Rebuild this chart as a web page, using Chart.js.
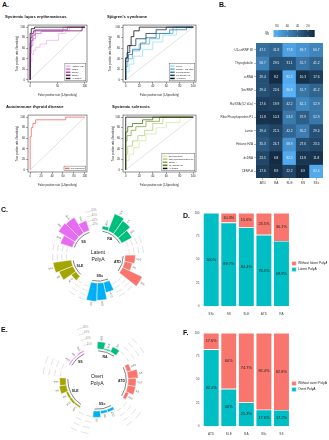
<!DOCTYPE html>
<html>
<head>
<meta charset="utf-8">
<script src="https://cdn.jsdelivr.net/npm/chart.js@4.4.1/dist/chart.umd.min.js"></script>
<style>
  body { margin: 0; background: #fff; font-family: 'Liberation Sans', Arial, sans-serif; }
  #page { position: relative; width: 329px; height: 440px; overflow: hidden; }
  canvas { position: absolute; }
  .tag { position: absolute; font-weight: bold; font-size: 7px; line-height: 7px; color: #111; }
</style>
</head>
<body>
<div id="page">
  <canvas id="rocSle" width="91" height="92" style="left:0;top:10px;width:91px;height:92px"></canvas>
  <canvas id="rocSs" width="100" height="92" style="left:100px;top:10px;width:100px;height:92px"></canvas>
  <canvas id="rocAtd" width="91" height="92" style="left:0;top:100px;width:91px;height:92px"></canvas>
  <canvas id="rocSsc" width="100" height="92" style="left:100px;top:100px;width:100px;height:92px"></canvas>
  <canvas id="heat" width="169" height="172" style="left:160px;top:18px;width:169px;height:172px"></canvas>
  <canvas id="circleC" width="196" height="112" style="left:0;top:200px;width:196px;height:112px"></canvas>
  <canvas id="stackD" width="149" height="112" style="left:180px;top:208px;width:149px;height:112px"></canvas>
  <canvas id="circleE" width="194" height="140" style="left:0;top:300px;width:194px;height:140px"></canvas>
  <canvas id="stackF" width="149" height="112" style="left:180px;top:328px;width:149px;height:112px"></canvas>
  <div class="tag" style="left:2px;top:1px">A.</div>
  <div class="tag" style="left:219px;top:1px">B.</div>
  <div class="tag" style="left:1px;top:206px">C.</div>
  <div class="tag" style="left:183px;top:212px">D.</div>
  <div class="tag" style="left:1px;top:326px">E.</div>
  <div class="tag" style="left:183px;top:329px">F.</div>
</div>
<script>
// ---------- data ----------
// A: ROC curves, false positive rate (%) / true positive rate (%), step corners
const rocYTicks = [0, 20, 40, 60, 80, 100];

const sleNames = ['Histone H2A', 'Lamin', 'ssRNA', 'dsDNA', 'All tested'];
const sleColors = ['#f0b6ec', '#db7ad7', '#b34db3', '#6d1f6d', '#111111'];
const sleFpr = [
  [0, 3, 6, 10, 18, 30, 52, 65, 72, 100],
  [0, 2, 5, 10, 20, 60, 100],
  [0, 2, 5, 9, 68, 100],
  [0, 1, 3, 6, 95, 100],
  [0, 2, 8, 100]
];
const sleTpr = [
  [0, 35, 48, 56, 62, 68, 75, 88, 93, 100],
  [0, 50, 65, 78, 88, 92, 100],
  [0, 62, 75, 85, 95, 100],
  [0, 70, 80, 88, 93, 100],
  [0, 88, 97, 100]
];

const ssNames = ['Lamin', 'Ro/SSA (52 kDa)', 'Thyroglobulin', 'U1-snRNP 68', 'All tested'];
const ssColors = ['#9fe1f2', '#5cb6de', '#3a7ea8', '#1c3d5c', '#111111'];
const ssFpr = [
  [0, 5, 12, 25, 40, 55, 75, 100],
  [0, 3, 10, 20, 35, 50, 70, 100],
  [0, 4, 10, 22, 30, 45, 65, 90, 100],
  [0, 2, 6, 15, 30, 45, 60, 100],
  [0, 3, 8, 12, 20, 100]
];
const ssTpr = [
  [0, 15, 30, 45, 58, 72, 85, 100],
  [0, 25, 40, 55, 68, 78, 88, 100],
  [0, 35, 48, 58, 70, 80, 88, 95, 100],
  [0, 40, 52, 65, 78, 88, 95, 100],
  [0, 42, 65, 82, 93, 100]
];

const atdNames = ['Thyroglobulin'];
const atdColors = ['#f26b63'];
const atdFpr = [[0, 2, 5, 10, 65, 100]];
const atdTpr = [[0, 63, 80, 88, 95, 100]];

const sscNames = ['Thyroglobulin', 'Ribo Phosphoprotein P1', 'CENP-A', 'U1-snRNP 68', 'All tested'];
const sscColors = ['#d9e6b3', '#b4cf7c', '#86a943', '#4c771c', '#111111'];
const sscFpr = [
  [0, 5, 12, 20, 30, 45, 60, 80, 100],
  [0, 3, 10, 18, 28, 40, 55, 100],
  [0, 2, 8, 15, 30, 50, 100],
  [0, 3, 10, 25, 40, 100],
  [0, 100]
];
const sscTpr = [
  [0, 18, 30, 42, 55, 68, 80, 90, 100],
  [0, 30, 45, 55, 65, 75, 88, 100],
  [0, 55, 65, 75, 82, 92, 100],
  [0, 72, 82, 88, 95, 100],
  [0, 100]
];

// B: heatmap (%)
const heatCols = ['ATD', 'RA', 'SLE', 'SS', 'SSc'];
const heatRows = ['U1-snRNP 68', 'Thyroglobulin', 'ssRNA', 'Sm/RNP', 'Ro/SSA (52 kDa)',
  'Ribo Phosphoprotein P1', 'Lamin', 'Histone H2A', 'dsDNA', 'CENP-A'];
const heatValues = [
  [47.1, 41.8, 77.8, 69.7, 60.7],
  [58.7, 29.5, 31.1, 51.7, 41.2],
  [29.4, 8.2, 82.2, 10.3, 17.6],
  [29.4, 22.6, 86.8, 51.7, 41.2],
  [17.6, 19.9, 42.2, 62.1, 52.9],
  [11.8, 10.3, 53.3, 37.9, 52.9],
  [29.4, 21.5, 42.2, 55.2, 29.4],
  [35.3, 24.7, 68.9, 27.6, 23.5],
  [23.5, 6.8, 82.2, 13.8, 11.8],
  [17.6, 8.9, 22.2, 6.9, 82.4]
];
const heatKeyTicks = [80, 60, 40, 20];

// C / E: circular bar plots (%)
const groupColors = { ATD: '#F8766D', SLE: '#A3A500', RA: '#00BF7D', SSc: '#00B0F6', SS: '#E76BF3' };
const pctGrid = [20, 40, 60, 80];

const latentGroups = ['RA', 'ATD', 'SSc', 'SLE', 'SS'];
const latentBars = [['ATD', 'SLE', 'SS', 'SSc'], ['SLE', 'SS', 'SSc'], ['ATD', 'SLE', 'SS'], ['ATD', 'SS', 'SSc'], ['ATD', 'RA', 'SLE', 'SSc']];
const latentPct = [[15, 80, 70, 50], [45, 35, 95], [45, 75, 80], [25, 65, 80], [55, 85, 80, 45]];

const overtGroups = ['RA', 'ATD', 'SSc', 'SLE', 'SS'];
const overtBars = [['ATD', 'SLE', 'SS'], ['APS', 'RA', 'SLE', 'SS', 'SSc'], ['ATD', 'RA', 'SS'], ['APS', 'ATD', 'RA', 'SS', 'SSc'], ['ATD', 'RA', 'SLE']];
const overtPct = [[25, 5, 20], [15, 35, 28, 28, 12], [10, 10, 22], [6, 8, 8, 25, 22], [4, 3, 5]];

// D / F: stacked percentages
const stackTicks = [0, 25, 50, 75, 100];
const latentCats = ['SSc', 'SS', 'SLE', 'ATD', 'RA'];
const latentWith = [100, 89.7, 84.4, 76.5, 69.9];
const latentWithout = [0, 10.3, 15.6, 23.5, 30.1];
const overtCats = ['ATD', 'SLE', 'RA', 'SSc', 'SS'];
const overtWith = [82.4, 40, 25.3, 17.6, 17.2];
const overtWithout = [17.6, 60, 74.7, 82.4, 82.8];

// ---------- charts ----------
const FAM = "'Liberation Sans', Arial, sans-serif";
Chart.defaults.font.family = FAM;
Chart.defaults.color = '#333';

// box round the plotting region, like R's box()
const frame = {
  id: 'frame',
  afterDatasetsDraw(chart) {
    const a = chart.chartArea, ctx = chart.ctx;
    ctx.save();
    ctx.strokeStyle = '#222';
    ctx.lineWidth = 0.5;
    ctx.strokeRect(a.left, a.top, a.right - a.left, a.bottom - a.top);
    ctx.restore();
  }
};

// legend drawn inside the bottom-right corner
const rocLegend = {
  id: 'rocLegend',
  afterDatasetsDraw(chart) {
    const ctx = chart.ctx, a = chart.chartArea;
    const items = chart.data.datasets.filter(d => d.label);
    ctx.save();
    ctx.font = '2.3px ' + FAM;
    const tw = Math.max(...items.map(d => ctx.measureText(d.label).width));
    const rowH = 3.1, w = tw + 8, h = items.length * rowH + 1.6;
    const x0 = a.right - w - 1.2, y0 = a.bottom - h - 1.2;
    ctx.fillStyle = '#fff';
    ctx.fillRect(x0, y0, w, h);
    ctx.strokeStyle = '#444';
    ctx.lineWidth = 0.4;
    ctx.strokeRect(x0, y0, w, h);
    ctx.textBaseline = 'middle';
    items.forEach((d, i) => {
      const y = y0 + 0.8 + rowH * (i + 0.5);
      ctx.strokeStyle = d.borderColor;
      ctx.lineWidth = 1.5;
      ctx.beginPath();
      ctx.moveTo(x0 + 1, y);
      ctx.lineTo(x0 + 5.5, y);
      ctx.stroke();
      ctx.fillStyle = '#222';
      ctx.fillText(d.label, x0 + 6.8, y);
    });
    ctx.restore();
  }
};

function rocChart(id, title, names, colors, fpr, tpr, xTicks, padL, yAxisW, yTitlePad) {
  const sets = names.map((name, i) => ({
    label: name,
    data: fpr[i].map((x, j) => ({ x: x, y: tpr[i][j] })),
    borderColor: colors[i],
    backgroundColor: colors[i],
    borderWidth: 0.8,
    showLine: true,
    stepped: 'after',
    pointRadius: 0,
    order: names.length - i
  }));
  sets.push({
    label: '', data: [{ x: 0, y: 0 }, { x: 100, y: 100 }],
    borderColor: '#c4c4c4', borderWidth: 0.5, showLine: true, pointRadius: 0, order: 99
  });
  const axis = (ticks, text, fit, titlePad) => ({
    min: -4, max: 104,
    afterBuildTicks: s => { s.ticks = ticks.map(v => ({ value: v })); },
    ticks: { font: { size: 2.8 }, color: '#222', padding: 1, autoSkip: false, maxRotation: 0 },
    grid: { drawOnChartArea: false, tickLength: 2, color: '#222', lineWidth: 0.4 },
    border: { display: false },
    title: { display: true, text: text, font: { size: 2.7 }, color: '#222', padding: titlePad },
    afterFit: fit
  });
  new Chart(document.getElementById(id), {
    type: 'scatter',
    data: { datasets: sets },
    options: {
      responsive: false,
      animation: false,
      layout: { padding: { left: padL, right: 4, top: 0, bottom: 0 } },
      scales: {
        x: axis(xTicks, 'False positive rate (1-Specificity)', s => { s.height = 20; }, { top: 0, bottom: 5.4 }),
        y: axis(rocYTicks, 'True positive rate (Sensitivity)', s => { s.width = yAxisW; }, { top: yTitlePad, bottom: 0 })
      },
      plugins: {
        legend: { display: false },
        tooltip: { enabled: false },
        title: {
          display: true, text: title, align: 'start', color: '#111',
          font: { size: 4.2, weight: 'bold' }, padding: { top: 4.5, bottom: 5.5 }
        }
      }
    },
    plugins: [frame, rocLegend]
  });
}

rocChart('rocSle', 'Systemic lupus erythematosus', sleNames, sleColors, sleFpr, sleTpr, [0, 50, 100], 5, 23, 10.4);
rocChart('rocSs', "Sjögren's syndrome", ssNames, ssColors, ssFpr, ssTpr, [0, 20, 40, 60, 80, 100], 7, 16, 1.4);
rocChart('rocAtd', 'Autoimmune thyroid disease', atdNames, atdColors, atdFpr, atdTpr, [0, 20, 40, 60, 80, 100], 6, 22, 9.4);
rocChart('rocSsc', 'Systemic sclerosis', sscNames, sscColors, sscFpr, sscTpr, [0, 20, 40, 60, 80, 100], 12, 11, 0);

// ---------- B heatmap ----------
const heatFlat = heatValues.flat();
const heatMin = Math.min(...heatFlat), heatMax = Math.max(...heatFlat);
const lowRgb = [19, 43, 67], highRgb = [86, 177, 247];
function heatColor(v) {
  const t = (v - heatMin) / (heatMax - heatMin);
  const c = lowRgb.map((lo, k) => Math.round(lo + (highRgb[k] - lo) * t));
  return `rgb(${c[0]},${c[1]},${c[2]})`;
}

const heatText = {
  id: 'heatText',
  afterDatasetsDraw(chart) {
    const ctx = chart.ctx;
    ctx.save();
    ctx.font = '3.2px ' + FAM;
    ctx.fillStyle = '#eeeeee';
    ctx.textAlign = 'center';
    ctx.textBaseline = 'middle';
    chart.data.datasets.forEach((ds, i) => {
      chart.getDatasetMeta(i).data.forEach((el, j) => {
        ctx.fillText(ds.values[j].toFixed(1), el.x, (el.y + el.base) / 2);
      });
    });
    ctx.restore();
  }
};

// colour key: light (high) on the left, dark (low) on the right
const heatKey = {
  id: 'heatKey',
  afterDraw(chart) {
    const ctx = chart.ctx;
    const keyX = v => 117 + (80 - v) * 0.515;
    const x0 = keyX(heatMax), x1 = keyX(heatMin);
    ctx.save();
    const g = ctx.createLinearGradient(x0, 0, x1, 0);
    g.addColorStop(0, heatColor(heatMax));
    g.addColorStop(1, heatColor(heatMin));
    ctx.fillStyle = g;
    ctx.fillRect(x0, 12, x1 - x0, 7);
    ctx.strokeStyle = '#fff';
    ctx.lineWidth = 0.4;
    ctx.fillStyle = '#333';
    ctx.font = '3px ' + FAM;
    ctx.textAlign = 'center';
    ctx.textBaseline = 'middle';
    heatKeyTicks.forEach(v => {
      const x = keyX(v);
      ctx.beginPath(); ctx.moveTo(x, 12); ctx.lineTo(x, 13.4); ctx.moveTo(x, 17.6); ctx.lineTo(x, 19); ctx.stroke();
      ctx.fillText(String(v), x, 8);
    });
    ctx.font = '4.5px ' + FAM;
    ctx.fillText('%', 107, 15.5);
    ctx.restore();
  }
};

const heatGrid = { drawOnChartArea: false, tickLength: 2, color: '#555', lineWidth: 0.4, offset: false };
new Chart(document.getElementById('heat'), {
  type: 'bar',
  data: {
    labels: heatCols,
    datasets: heatRows.map((row, i) => ({
      label: row,
      data: heatCols.map(() => [i, i + 1]),
      values: heatValues[i],
      backgroundColor: heatValues[i].map(heatColor),
      borderWidth: 0,
      barPercentage: 1,
      categoryPercentage: 1
    }))
  },
  options: {
    responsive: false,
    animation: false,
    layout: { padding: { left: 0, right: 6, top: 25, bottom: 0 } },
    scales: {
      x: {
        stacked: true,
        grid: heatGrid,
        border: { display: false },
        ticks: { font: { size: 3.2 }, color: '#333', padding: 1 },
        afterFit: s => { s.height = 12; }
      },
      y: {
        min: 0, max: 10, reverse: true,
        afterBuildTicks: s => { s.ticks = heatRows.map((_, i) => ({ value: i + 0.5 })); },
        ticks: { autoSkip: false, font: { size: 3 }, color: '#333', padding: 1, callback: (v, i) => heatRows[i] },
        grid: heatGrid,
        border: { display: false },
        afterFit: s => { s.width = 96; }
      }
    },
    plugins: { legend: { display: false }, tooltip: { enabled: false } }
  },
  plugins: [heatText, heatKey]
});

// ---------- C / E circular bars ----------
const circleDeco = {
  id: 'circleDeco',
  afterDatasetsUpdate(chart) {
    const inner = chart.scales.r.getDistanceFromCenterForValue(0);
    chart.getDatasetMeta(0).data.forEach(a => { a.innerRadius = inner; });
  },
  beforeDatasetsDraw(chart) {
    const r = chart.scales.r, ctx = chart.ctx, ds = chart.data.datasets[0];
    const arcs = chart.getDatasetMeta(0).data;
    ctx.save();
    ctx.strokeStyle = '#cdcdcd';
    ctx.lineWidth = 0.6;
    arcs.forEach((a, i) => {
      if (ds.groupOf[i] >= 0 || i === 0) return;
      pctGrid.forEach(v => {
        ctx.beginPath();
        ctx.arc(a.x, a.y, r.getDistanceFromCenterForValue(v), a.startAngle + 0.04, a.endAngle - 0.04);
        ctx.stroke();
      });
    });
    const a0 = arcs[0], ang = a0.startAngle;
    ctx.fillStyle = '#9a9a9a';
    ctx.font = '2.6px ' + FAM;
    ctx.textAlign = 'center';
    ctx.textBaseline = 'middle';
    pctGrid.forEach(v => {
      const d = r.getDistanceFromCenterForValue(v);
      ctx.fillText(v + '%', a0.x + d * Math.cos(ang), a0.y + d * Math.sin(ang));
    });
    ctx.restore();
  },
  afterDatasetsDraw(chart) {
    const r = chart.scales.r, ctx = chart.ctx, ds = chart.data.datasets[0];
    const arcs = chart.getDatasetMeta(0).data;
    const inner = r.getDistanceFromCenterForValue(0);
    ctx.save();
    // bar names
    ctx.font = '2.6px ' + FAM;
    ctx.fillStyle = '#555';
    ctx.textBaseline = 'middle';
    arcs.forEach((a, i) => {
      if (ds.groupOf[i] < 0) return;
      const mid = (a.startAngle + a.endAngle) / 2;
      const d = a.outerRadius + 1.2;
      ctx.save();
      ctx.translate(a.x + d * Math.cos(mid), a.y + d * Math.sin(mid));
      if (Math.cos(mid) < 0) { ctx.rotate(mid + Math.PI); ctx.textAlign = 'right'; }
      else { ctx.rotate(mid); ctx.textAlign = 'left'; }
      ctx.fillText(ds.barNames[i], 0, 0);
      ctx.restore();
    });
    // group names with an arc underneath
    ds.groups.forEach((g, gi) => {
      const idx = ds.groupOf.map((v, k) => v === gi ? k : -1).filter(k => k >= 0);
      const first = arcs[idx[0]], last = arcs[idx[idx.length - 1]];
      ctx.strokeStyle = '#333';
      ctx.lineWidth = 0.6;
      ctx.beginPath();
      ctx.arc(first.x, first.y, inner - 1.8, first.startAngle + 0.03, last.endAngle - 0.03);
      ctx.stroke();
      const mid = (first.startAngle + last.endAngle) / 2, d = inner - 6.5;
      ctx.fillStyle = '#222';
      ctx.font = 'bold 3.5px ' + FAM;
      ctx.textAlign = 'center';
      ctx.fillText(g, first.x + d * Math.cos(mid), first.y + d * Math.sin(mid));
    });
    // centre text
    ctx.fillStyle = '#222';
    ctx.font = '5px ' + FAM;
    ctx.textAlign = 'center';
    const lines = ds.centerText.split('\n');
    lines.forEach((t, k) => ctx.fillText(t, r.xCenter, r.yCenter + (k - (lines.length - 1) / 2) * 6.4));
    ctx.restore();
  }
};

function circleChart(id, centerText, groups, bars, pct, rMin, startAngle, pad) {
  const values = [], names = [], colors = [], groupOf = [];
  const pushGap = n => {
    for (let k = 0; k < n; k++) { values.push(0); names.push(''); colors.push('rgba(0,0,0,0)'); groupOf.push(-1); }
  };
  pushGap(1);
  groups.forEach((g, gi) => {
    bars[gi].forEach((b, bi) => {
      values.push(pct[gi][bi]); names.push(b); colors.push(groupColors[g]); groupOf.push(gi);
    });
    pushGap(gi < groups.length - 1 ? 2 : 1);
  });
  new Chart(document.getElementById(id), {
    type: 'polarArea',
    data: {
      labels: names,
      datasets: [{
        data: values, backgroundColor: colors, borderColor: '#fff', borderWidth: 0.5,
        barNames: names, groupOf: groupOf, groups: groups, centerText: centerText
      }]
    },
    options: {
      responsive: false,
      animation: false,
      layout: { padding: pad },
      scales: {
        r: {
          min: rMin, max: 100, startAngle: startAngle,
          ticks: { display: false }, grid: { display: false },
          angleLines: { display: false }, pointLabels: { display: false }
        }
      },
      plugins: { legend: { display: false }, tooltip: { enabled: false } }
    },
    plugins: [circleDeco]
  });
}

circleChart('circleC', 'Latent\nPolyA', latentGroups, latentBars, latentPct, -117, -5, { top: 6, bottom: 6, left: 0, right: 0 });
circleChart('circleE', 'Overt\nPolyA', overtGroups, overtBars, overtPct, -107, -12, { top: 20, bottom: 0, left: 0, right: 0 });

// ---------- D / F stacked bars ----------
const segLabels = {
  id: 'segLabels',
  afterDatasetsDraw(chart) {
    const ctx = chart.ctx;
    ctx.save();
    ctx.font = '3.9px ' + FAM;
    ctx.fillStyle = '#1a1a1a';
    ctx.textAlign = 'center';
    ctx.textBaseline = 'middle';
    chart.data.datasets.forEach((ds, i) => {
      chart.getDatasetMeta(i).data.forEach((el, j) => {
        if (ds.data[j] > 0) ctx.fillText(ds.data[j] + '%', el.x, (el.y + el.base) / 2);
      });
    });
    ctx.restore();
  }
};

function stackChart(id, cats, withVals, withoutVals, withName, withoutName) {
  new Chart(document.getElementById(id), {
    type: 'bar',
    data: {
      labels: cats,
      datasets: [
        { label: withName, data: withVals, backgroundColor: '#00BFC4' },
        { label: withoutName, data: withoutVals, backgroundColor: '#F8766D' }
      ]
    },
    options: {
      responsive: false,
      animation: false,
      datasets: { bar: { barPercentage: 0.92, categoryPercentage: 1, borderColor: '#fff', borderWidth: 0.6 } },
      layout: { padding: { top: 5, right: 2, left: 0, bottom: 0 } },
      scales: {
        x: {
          stacked: true,
          grid: { display: false, drawTicks: false },
          border: { display: false },
          ticks: { font: { size: 3.2 }, color: '#444', padding: 6 },
          afterFit: s => { s.height = 14; }
        },
        y: {
          stacked: true, min: 0, max: 100,
          afterBuildTicks: s => { s.ticks = stackTicks.map(v => ({ value: v })); },
          grid: { display: false, drawTicks: false },
          border: { display: false },
          ticks: { font: { size: 3 }, color: '#444', padding: 3 },
          afterFit: s => { s.width = 22.4; }
        }
      },
      plugins: {
        tooltip: { enabled: false },
        legend: {
          position: 'right', reverse: true,
          labels: { boxWidth: 4.5, boxHeight: 4.5, padding: 1.5, font: { size: 3.3 }, color: '#222' }
        }
      }
    },
    plugins: [segLabels]
  });
}

stackChart('stackD', latentCats, latentWith, latentWithout, 'Latent PolyA', 'Without latent PolyA');
stackChart('stackF', overtCats, overtWith, overtWithout, 'Overt PolyA', 'Without overt PolyA');
</script>
</body>
</html>
